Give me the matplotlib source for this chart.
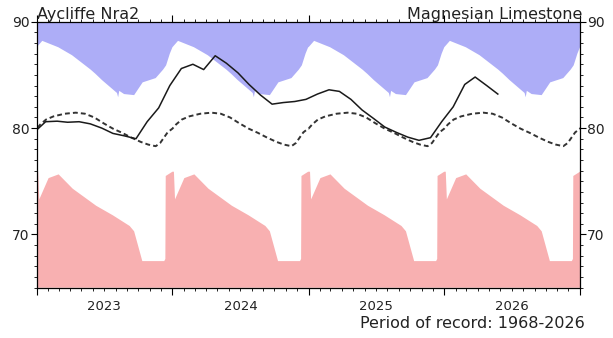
import matplotlib
matplotlib.use("Agg")
import matplotlib.pyplot as plt
import matplotlib.dates as mdates
from matplotlib.ticker import MultipleLocator, NullFormatter
from datetime import datetime, timedelta

# ---- data ----
# Envelopes (climatology by day of year), repeated every year
max_doy = [0, 15, 58, 95, 145, 158, 176, 216, 219, 222, 235, 262, 285, 320, 340, 348, 358, 365]
max_val = [87.6, 88.2, 87.6, 86.85, 85.5, 85.1, 84.5, 83.3, 82.9, 83.5, 83.2, 83.1, 84.3, 84.7, 85.5, 85.9, 87.0, 87.6]

min_doy = [0, 4, 7, 32, 59, 97, 160, 205, 250, 262, 284, 343, 346, 347, 365]
min_val = [75.9, 75.9, 73.3, 75.3, 75.65, 74.3, 72.7, 71.8, 70.8, 70.3, 67.5, 67.5, 67.7, 75.5, 75.9]

avg_doy = [0, 10, 25, 45, 75, 105, 130, 155, 180, 205, 230, 255, 280, 300, 320, 332, 342, 352, 365]
avg_val = [79.95, 80.35, 80.8, 81.1, 81.35, 81.45, 81.35, 81.0, 80.45, 79.95, 79.55, 79.1, 78.7,
           78.45, 78.3, 78.6, 79.1, 79.6, 79.95]

env_years = [2022, 2023, 2024, 2025, 2026, 2027]

# Observed monthly levels (Dec 2022 .. May 2026)
obs_start = (2022, 12)
obs_vals = [79.6,
            80.6, 80.65, 80.55, 80.6, 80.4, 80.0, 79.5, 79.27, 79.0, 80.6, 81.9, 84.0,
            85.6, 86.0, 85.5, 86.8, 86.1, 85.2, 84.1, 83.1, 82.25, 82.4, 82.5, 82.7,
            83.2, 83.6, 83.45, 82.7, 81.7, 80.9, 80.1, 79.6, 79.15, 78.85, 79.1, 80.6,
            82.0, 84.1, 84.8, 84.0, 83.2]

year_labels = ["2023", "2024", "2025", "2026"]
title_left = "Aycliffe Nra2"
title_right = "Magnesian Limestone"
footer = "Period of record: 1968-2026"


def clim_series(doys, vals):
    xs, ys = [], []
    for yr in env_years:
        base = datetime(yr, 1, 1)
        for d, v in zip(doys, vals):
            xs.append(base + timedelta(days=d))
            ys.append(v)
    return xs, ys


max_x, max_y = clim_series(max_doy, max_val)
min_x, min_y = clim_series(min_doy, min_val)
avg_x, avg_y = clim_series(avg_doy, avg_val)

obs_x = []
y, m = obs_start
for _ in obs_vals:
    obs_x.append(datetime(y, m, 25))
    m += 1
    if m > 12:
        m = 1
        y += 1

# ---- figure ----
W, H = 613, 338
fig = plt.figure(figsize=(W / 100, H / 100), dpi=100)
left_px, right_px, top_px, bot_px = 36.7, 580.0, 21.7, 287.7
ax = fig.add_axes([left_px / W, 1 - bot_px / H, (right_px - left_px) / W, (bot_px - top_px) / H])

blue = "#adadf7"
red = "#f8b0b1"
txt = "#222222"

ax.fill_between(max_x, max_y, 90, color=blue, lw=0)
ax.fill_between(min_x, 65, min_y, color=red, lw=0)
ax.plot(avg_x, avg_y, color="#333333", lw=1.4, dashes=(2.5, 1.6))
ax.plot(obs_x, obs_vals, color="#1a1a1a", lw=1.1)

ax.set_xlim(datetime(2023, 1, 1), datetime(2027, 1, 1))
ax.set_ylim(65, 90)

ax.xaxis.set_major_locator(mdates.YearLocator())
ax.xaxis.set_minor_locator(mdates.MonthLocator())
ax.xaxis.set_major_formatter(NullFormatter())
ax.yaxis.set_major_locator(MultipleLocator(10))
ax.yaxis.set_minor_locator(MultipleLocator(1))

ax.tick_params(axis="both", which="both", direction="out", colors="black", labelcolor=txt)
ax.tick_params(axis="y", which="major", length=4, labelsize=10, pad=1, left=True, right=True,
               labelleft=True, labelright=True)
ax.tick_params(axis="y", which="minor", length=2, left=True, right=True)
ax.tick_params(axis="x", which="major", length=5, top=True, bottom=True)
ax.tick_params(axis="x", which="minor", length=2.5, top=True, bottom=True)
for s in ax.spines.values():
    s.set_color("black")
    s.set_linewidth(0.9)

for i, lab in enumerate(year_labels):
    ax.text(datetime(2023 + i, 7, 2), -0.045, lab, transform=ax.get_xaxis_transform(),
            ha="center", va="top", fontsize=9.5, color=txt)

fig.text(left_px / W, 1 - 19.5 / H, title_left, ha="left", va="baseline", fontsize=11.5, color=txt)
fig.text(582 / W, 1 - 19.5 / H, title_right, ha="right", va="baseline", fontsize=11.5, color=txt)
fig.text(585 / W, 1 - 328 / H, footer, ha="right", va="baseline", fontsize=11.5, color=txt)

fig.savefig("out.png", dpi=100)
